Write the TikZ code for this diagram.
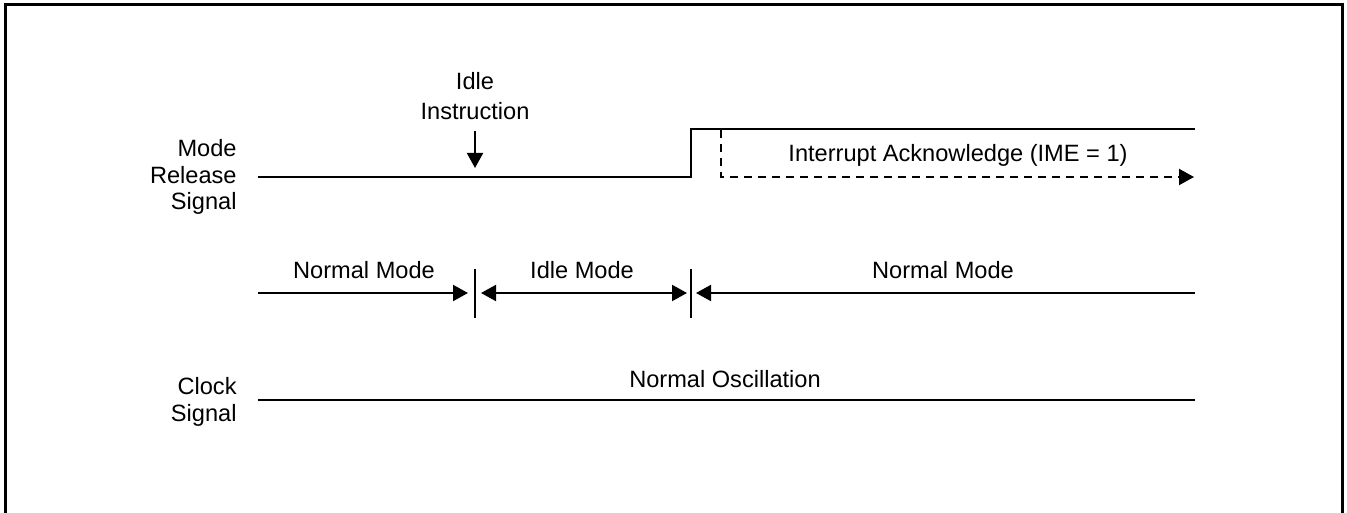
\documentclass[tikz,border=0pt]{standalone}
\usepackage{fontspec}
\setmainfont{Liberation Sans}
\usetikzlibrary{arrows.meta,positioning}

\begin{document}
\begin{tikzpicture}[
 x=0.5pt,y=-0.5pt,
 lbl/.style={inner sep=0pt,font=\fontsize{11.8}{13.3}\selectfont},
 sig/.style={line width=1pt},
 arr/.style={sig,-{Triangle[length=7.5pt,width=8pt]}},
 dblarr/.style={sig,{Triangle[length=7.5pt,width=8pt]}-{Triangle[length=7.5pt,width=8pt]}},
 revarr/.style={sig,{Triangle[length=7.5pt,width=8pt]}-},
 divider/.style={line width=0.8pt},
 ack/.style={arr,dash pattern=on 4pt off 3pt}
]
\useasboundingbox (0,0) rectangle (1347,513);
\draw[line width=1.5pt] (5,513) -- (5,5) -- (1342,5) -- (1342,513);

% signal names
\node[lbl,align=right,anchor=east] (mrs) at (237,177) {Mode\\Release\\Signal};
\node[lbl,align=right,anchor=east] (clk) at (237,402) {Clock\\Signal};

% mode release signal
\coordinate (m0) at (258,177);
\coordinate (m1) at (691,177);
\coordinate (m2) at (691,129);
\coordinate (m3) at (1195,129);
\draw[sig] (m0) -- (m1) -- (m2) -- (m3);

% idle instruction
\node[lbl,align=center] (idle) at (475,96) {Idle\\[1.5pt]Instruction};
\coordinate (idletip) at (475,168);
\draw[arr] ([yshift=-5.5pt]idle.south) -- (idletip);

% interrupt acknowledge
\coordinate (a0) at (721,130);
\coordinate (a1) at (721,177);
\coordinate (a2) at (1194,177);
\draw[ack] (a0) -- (a1) -- (a2);
\node[lbl,anchor=base] (ackl) at (958,162) {Interrupt Acknowledge (IME = 1)};

% operating modes
\coordinate (d1t) at (475,269);
\coordinate (d1b) at (475,318);
\coordinate (d2t) at (691,269);
\coordinate (d2b) at (691,318);
\draw[divider] (d1t) -- (d1b);
\draw[divider] (d2t) -- (d2b);
\coordinate (n0) at (258,293);
\coordinate (n1) at (468,293);
\coordinate (i0) at (481,293);
\coordinate (i1) at (687,293);
\coordinate (n2) at (696,293);
\coordinate (n3) at (1195,293);
\draw[arr] (n0) -- (n1);
\draw[dblarr] (i0) -- (i1);
\draw[revarr] (n2) -- (n3);
\node[lbl,anchor=base] (norm1) at (364,278) {Normal Mode};
\node[lbl,anchor=base] (idlem) at (582,278) {Idle Mode};
\node[lbl,anchor=base] (norm2) at (943,278) {Normal Mode};

% clock signal
\coordinate (c0) at (258,400);
\coordinate (c1) at (1195,400);
\draw[sig] (c0) -- (c1);
\node[lbl,anchor=base] (osc) at (725,387) {Normal Oscillation};
\end{tikzpicture}
\end{document}
